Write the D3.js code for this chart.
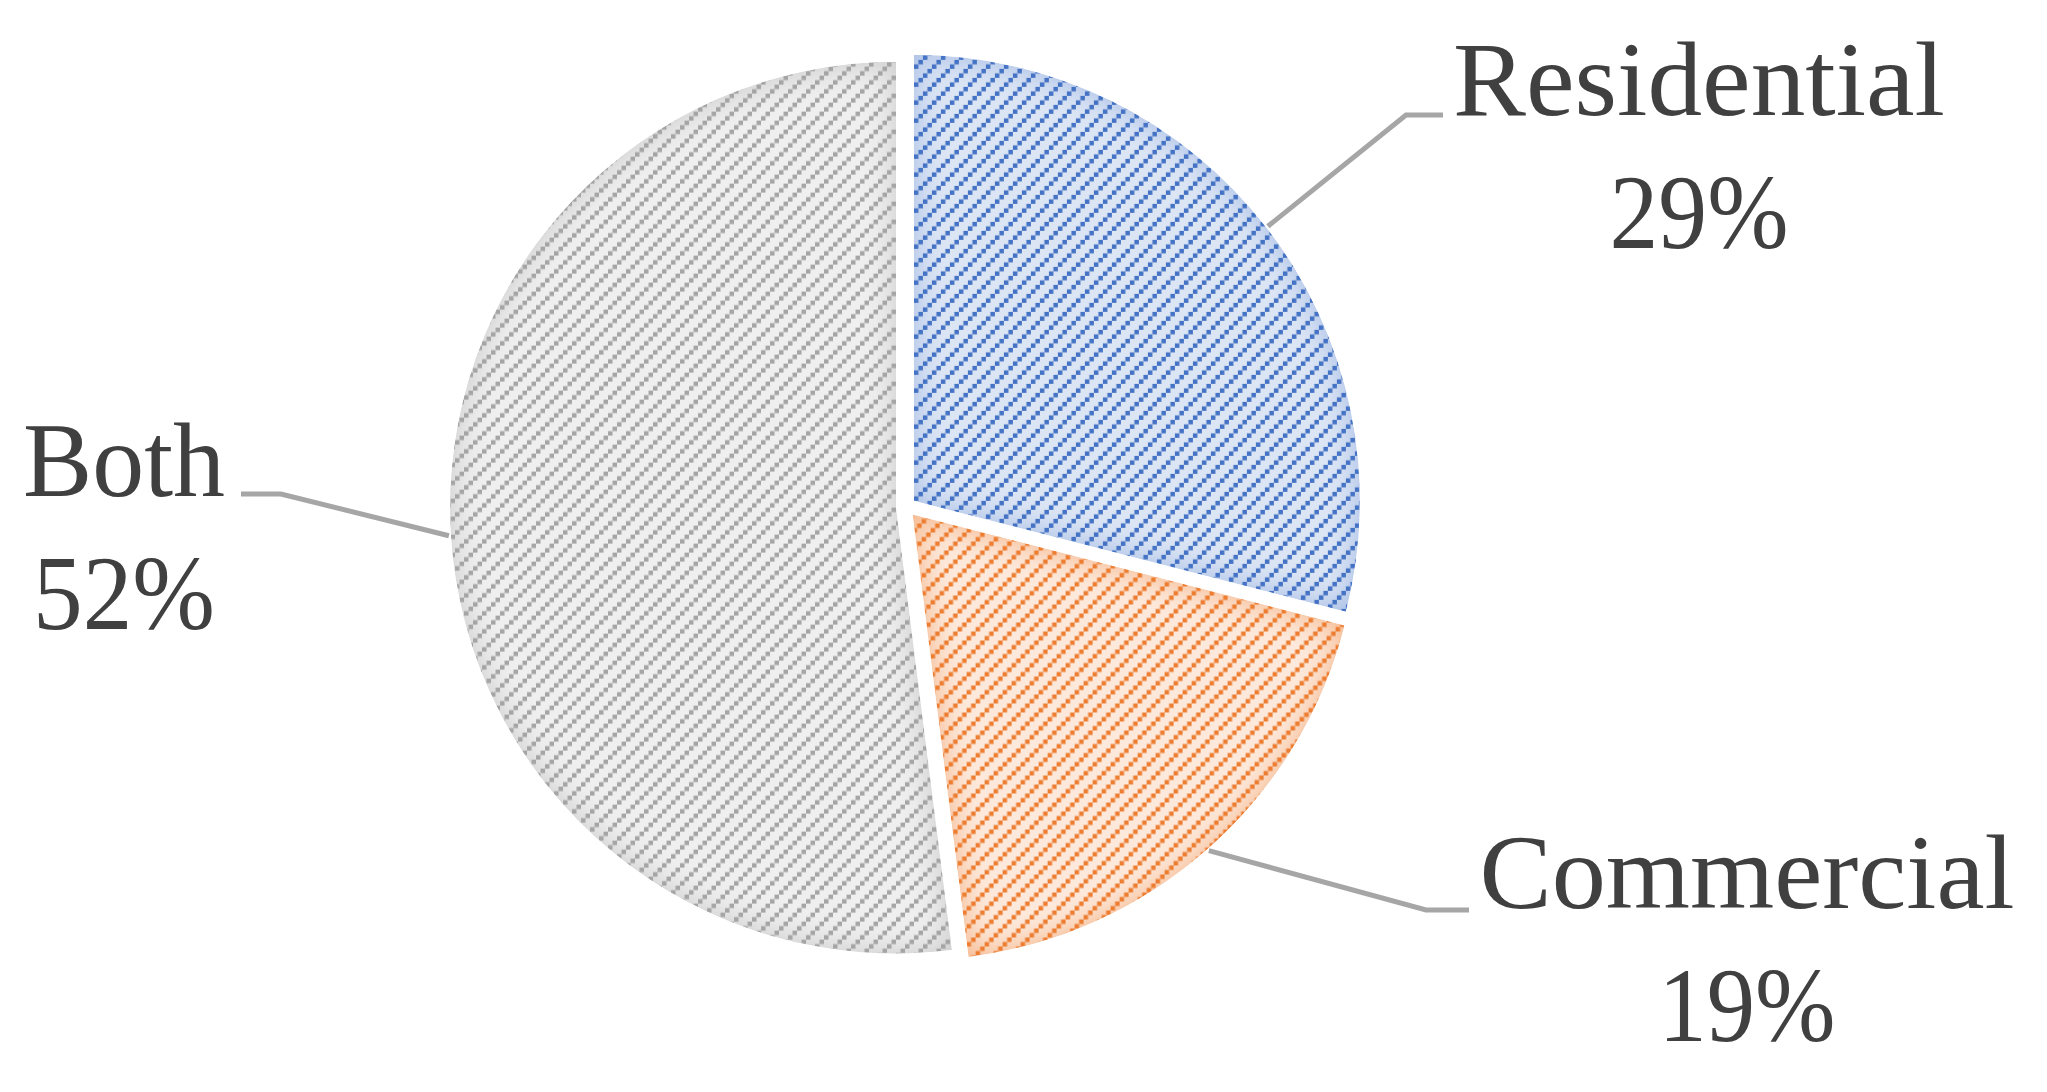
<!DOCTYPE html>
<html>
<head>
<meta charset="utf-8">
<script src="https://cdn.jsdelivr.net/npm/d3@7"></script>
<style>
  html, body { margin: 0; padding: 0; background: #fff; }
  svg { display: block; }
</style>
</head>
<body>
<svg id="chart" width="2047" height="1092"></svg>
<script>
// data
var categories = ["Residential", "Commercial", "Both"];
var shares = [29, 19, 52];
var percentLabels = ["29%", "19%", "52%"];

// styles per slice
var dotColors = ["#4472c4", "#ed7d31", "#a5a5a5"];
var lightColors = ["#dce5f4", "#fde9dc", "#efefef"];
var rimColors = ["#a3bae4", "#f4b183", "#c8c8c8"];

// label layout (where excel put the callouts)
var labelLayout = {
  Residential: { x: 1699, y: 115, len1: 492, len2: 179, elbow: [1406, 115], end: [1443, 115] },
  Commercial: { x: 1747, y: 908, len1: 535, len2: 177, elbow: [1426, 910], end: [1469, 910] },
  Both: { x: 124, y: 496, len1: 202, len2: 182, elbow: [281, 494], end: [241, 494] }
};

var cx = 906, cy = 507, radius = 446, explode = 10;

var svg = d3.select("#chart");
var defs = svg.append("defs");

defs.append("filter")
  .attr("id", "soft")
  .attr("x", "-20%").attr("y", "-20%")
  .attr("width", "140%").attr("height", "140%")
  .append("feGaussianBlur")
  .attr("stdDeviation", 16);

/* dotted upward diagonal: a staircase of small squares per tile */
var tile = 18, dot = 4.5;
dotColors.forEach(function (c, i) {
  var p = defs.append("pattern")
    .attr("id", "hatch" + i)
    .attr("patternUnits", "userSpaceOnUse")
    .attr("width", tile)
    .attr("height", tile);
  d3.range(4).forEach(function (k) {
    p.append("rect")
      .attr("x", k * dot).attr("y", tile - (k + 1) * dot)
      .attr("width", dot).attr("height", dot)
      .attr("fill", c);
  });
});

var pie = d3.pie().sort(null).value(function (d) { return d; });
var arcs = pie(shares);
var arc = d3.arc().innerRadius(0).outerRadius(radius);

var offsetOf = function (d) {
  var mid = (d.startAngle + d.endAngle) / 2;
  return [Math.sin(mid) * explode, -Math.cos(mid) * explode];
};

arcs.forEach(function (d, i) {
  defs.append("clipPath")
    .attr("id", "clip" + i)
    .append("path")
    .attr("d", arc(d));
});

var slices = svg.selectAll("g.slice")
  .data(arcs)
  .enter()
  .append("g")
  .attr("class", "slice")
  .attr("transform", function (d) {
    var o = offsetOf(d);
    return "translate(" + (cx + o[0]) + "," + (cy + o[1]) + ")";
  })
  .attr("clip-path", function (d, i) { return "url(#clip" + i + ")"; });

slices.append("path")
  .attr("d", arc)
  .attr("fill", function (d, i) { return rimColors[i]; });

slices.append("path")
  .attr("d", arc)
  .attr("fill", function (d, i) { return lightColors[i]; })
  .attr("filter", "url(#soft)");

slices.append("path")
  .attr("d", arc)
  .attr("fill", function (d, i) { return "url(#hatch" + i + ")"; });

// leader lines
arcs.forEach(function (d, i) {
  var lay = labelLayout[categories[i]];
  var o = offsetOf(d);
  var mid = (d.startAngle + d.endAngle) / 2;
  var start = [cx + o[0] + Math.sin(mid) * (radius + 2), cy + o[1] - Math.cos(mid) * (radius + 2)];
  svg.append("polyline")
    .attr("points", [start, lay.elbow, lay.end].map(function (p) { return p.join(","); }).join(" "))
    .attr("fill", "none")
    .attr("stroke", "#a6a6a6")
    .attr("stroke-width", 5);
});

// labels
arcs.forEach(function (d, i) {
  var lay = labelLayout[categories[i]];
  var t = svg.append("g")
    .attr("font-family", "'Liberation Serif', 'DejaVu Serif', serif")
    .attr("font-size", 105)
    .attr("fill", "#404040")
    .attr("text-anchor", "middle");
  t.append("text")
    .attr("x", lay.x).attr("y", lay.y)
    .attr("textLength", lay.len1)
    .attr("lengthAdjust", "spacingAndGlyphs")
    .text(categories[i]);
  t.append("text")
    .attr("x", lay.x).attr("y", lay.y + 133)
    .attr("textLength", lay.len2)
    .attr("lengthAdjust", "spacingAndGlyphs")
    .text(percentLabels[i]);
});
</script>
</body>
</html>
